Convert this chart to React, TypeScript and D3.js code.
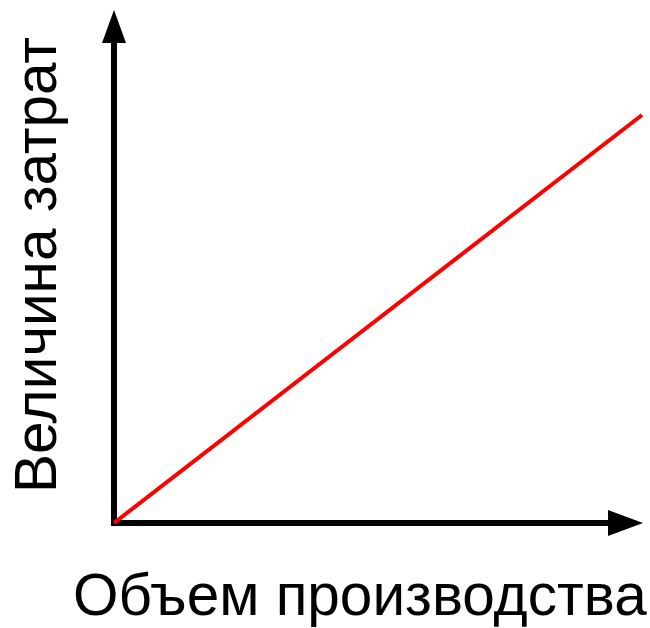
import React from "react";
import * as d3 from "d3";

const xDomain = [0, 100];
const yDomain = [0, 100];
const costLine = [
  { volume: 0, cost: 0 },
  { volume: 100, cost: 100 },
];
const xLabel = "Объем производства";
const yLabel = "Величина затрат";

const W = 650;
const H = 628;

export default function App() {
  const x0 = 114, x1 = 642;
  const y0 = 523, y1 = 115;
  const x = d3.scaleLinear().domain(xDomain).range([x0, x1]);
  const y = d3.scaleLinear().domain(yDomain).range([y0, y1]);
  const line = d3
    .line<{ volume: number; cost: number }>()
    .x((d) => x(d.volume))
    .y((d) => y(d.cost));

  return (
    <svg
      width={W}
      height={H}
      style={{ position: "absolute", left: 0, top: 0, background: "#fff" }}
      fontFamily="'Liberation Sans', Arial, sans-serif"
    >
      {/* y axis */}
      <line x1={x0} y1={y0 + 3} x2={x0} y2={40} stroke="#000" strokeWidth={6} />
      <polygon points={`${x0},10 ${x0 - 12},43 ${x0 + 12},43`} fill="#000" />
      {/* x axis */}
      <line x1={x0 - 3} y1={y0} x2={612} y2={y0} stroke="#000" strokeWidth={6} />
      <polygon points={`643,${y0} 608,${y0 - 13} 608,${y0 + 13}`} fill="#000" />
      {/* cost line */}
      <path d={line(costLine) || ""} fill="none" stroke="#ff0000" strokeWidth={4} />
      <text x={73} y={615} fontSize={58.5} fill="#000">
        {xLabel}
      </text>
      <text
        transform={`translate(56,493) rotate(-90)`}
        fontSize={58.5}
        fill="#000"
      >
        {yLabel}
      </text>
    </svg>
  );
}
